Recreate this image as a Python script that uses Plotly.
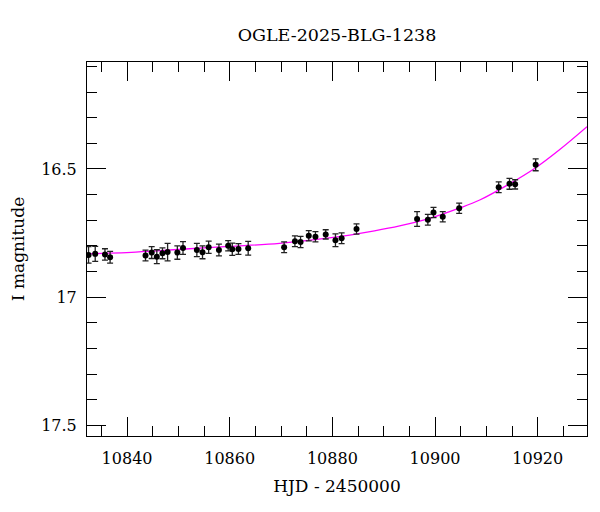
import plotly.graph_objects as go

# Photometry (HJD - 2450000, I mag, error)
hjd = [10832.5, 10833.8, 10835.7, 10836.7, 10843.6, 10844.8, 10845.8, 10846.9,
       10847.9, 10849.8, 10850.9, 10853.6, 10854.7, 10855.9, 10857.9, 10859.7,
       10860.5, 10861.7, 10863.6, 10870.6, 10872.7, 10873.8, 10875.4, 10876.7,
       10878.7, 10880.6, 10881.8, 10884.7, 10896.5, 10898.6, 10899.7, 10901.5,
       10904.7, 10912.4, 10914.5, 10915.6, 10919.6]
mag = [16.835, 16.831, 16.833, 16.844, 16.837, 16.826, 16.842, 16.829,
       16.824, 16.826, 16.808, 16.816, 16.825, 16.805, 16.816, 16.799,
       16.813, 16.812, 16.809, 16.805, 16.782, 16.785, 16.760, 16.764,
       16.755, 16.778, 16.770, 16.734, 16.695, 16.698, 16.670, 16.686,
       16.653, 16.571, 16.558, 16.560, 16.484]
err = [0.032, 0.029, 0.022, 0.023, 0.021, 0.023, 0.027, 0.021,
       0.034, 0.026, 0.025, 0.026, 0.025, 0.024, 0.023, 0.020,
       0.024, 0.021, 0.027, 0.021, 0.021, 0.022, 0.020, 0.020,
       0.018, 0.025, 0.021, 0.020, 0.029, 0.021, 0.020, 0.020,
       0.020, 0.021, 0.021, 0.018, 0.023]

# Model curve
model_t = [10832.2, 10841.7, 10851.4, 10860.0, 10869.7, 10879.4, 10888.2,
           10893.1, 10898.6, 10904.7, 10908.7, 10914.5, 10919.6, 10924.3, 10929.6]
model_m = [16.831, 16.824, 16.812, 16.802, 16.790, 16.769, 16.741,
           16.722, 16.695, 16.653, 16.621, 16.558, 16.495, 16.424, 16.335]

title_text = "OGLE-2025-BLG-1238"
x_title = "HJD - 2450000"
y_title = "I magnitude"

FONT = "DejaVu Serif"

fig = go.Figure()
fig.add_trace(go.Scatter(
    x=model_t, y=model_m, mode="lines", line=dict(color="#ff00ff", width=1.3, shape="spline"),
    hoverinfo="skip", showlegend=False))
fig.add_trace(go.Scatter(
    x=hjd, y=mag, mode="markers",
    marker=dict(color="black", size=6),
    error_y=dict(type="data", array=err, visible=True, color="#222222", thickness=1.3, width=3),
    showlegend=False))

axis_common = dict(
    showline=True, linecolor="black", linewidth=1, mirror="allticks",
    ticks="inside", ticklen=19, tickwidth=1, tickcolor="black",
    showgrid=False, zeroline=False, automargin=False,
    tickfont=dict(family=FONT, size=16, color="black"),
)

fig.update_xaxes(
    range=[10832.2, 10929.6], dtick=20, tick0=10840, tickformat="d",
    minor=dict(dtick=5, tick0=10840, ticks="inside", ticklen=10, tickcolor="black", showgrid=False),
    title=dict(text=x_title, font=dict(family=FONT, size=17, color="black"), standoff=12),
    ticklabelstandoff=8,
    **axis_common)
fig.update_yaxes(
    range=[17.541, 16.083], dtick=0.5, tick0=16.5,
    minor=dict(dtick=0.1, tick0=16.5, ticks="inside", ticklen=10, tickcolor="black", showgrid=False),
    title=dict(text=y_title, font=dict(family=FONT, size=17, color="black"), standoff=14),
    ticklabelstandoff=6,
    **axis_common)

fig.update_layout(
    width=600, height=512,
    margin=dict(l=79, r=21, t=54, b=84),
    paper_bgcolor="white", plot_bgcolor="white",
    title=dict(text=title_text, xref="paper", x=0.5, xanchor="center",
               y=1 - 27 / 512, yanchor="middle",
               font=dict(family=FONT, size=17.5, color="black")),
    font=dict(family=FONT, color="black"),
)

fig.write_html("out.html")
